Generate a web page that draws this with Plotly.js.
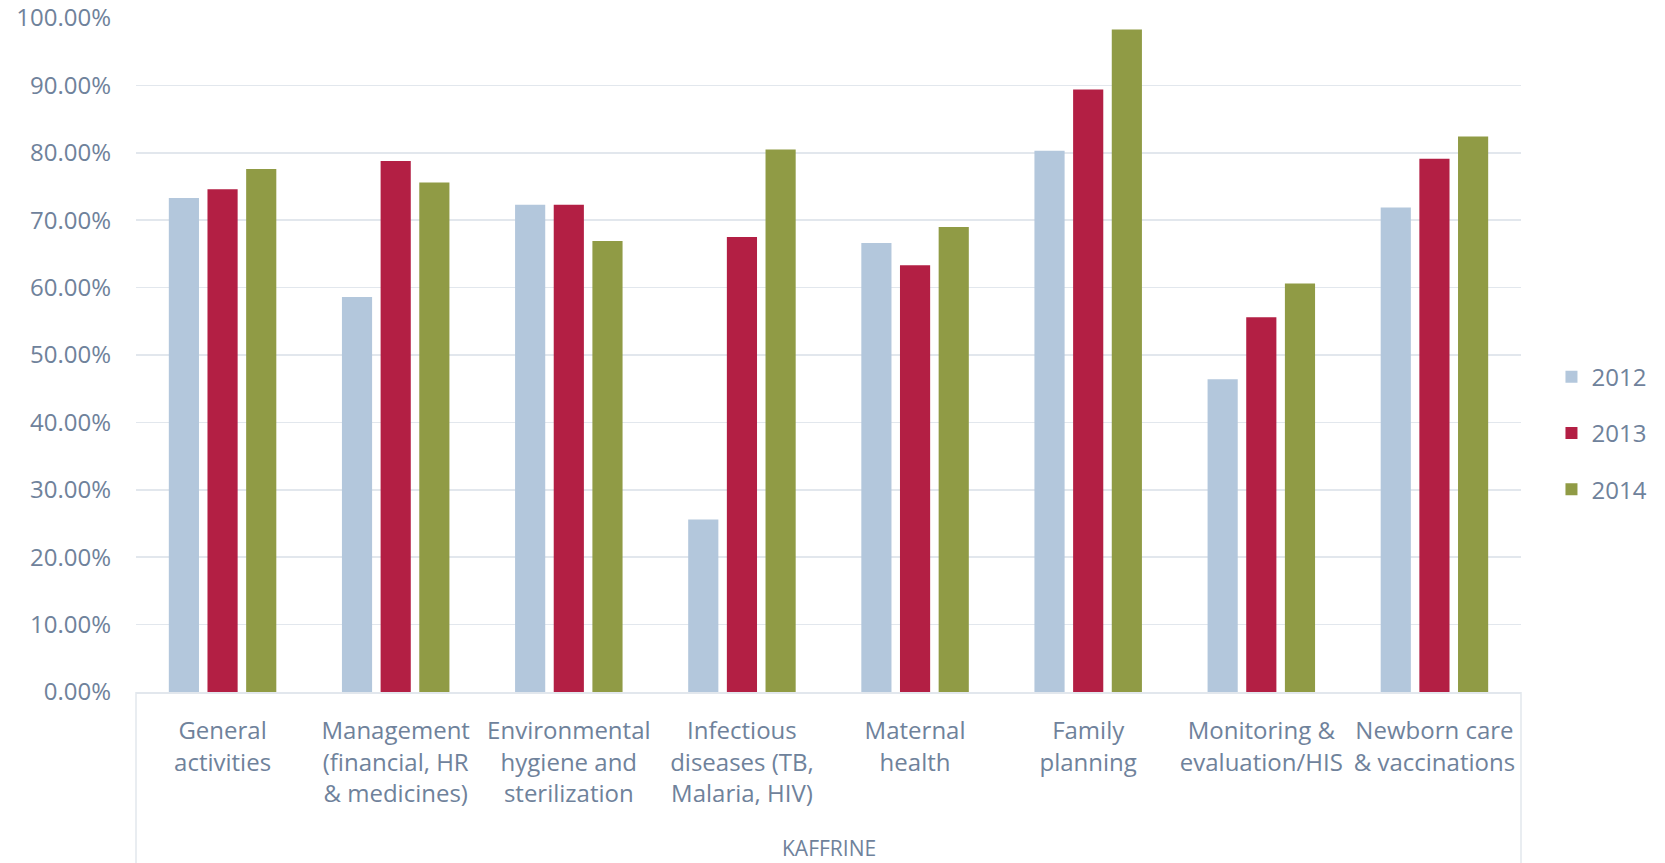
<!DOCTYPE html>
<html>
<head>
<meta charset="utf-8">
<script src="https://cdn.plot.ly/plotly-3.0.1.min.js"></script>
<style>
  html, body { margin: 0; padding: 0; background: #ffffff; }
  #chart { width: 1665px; height: 863px; }
</style>
</head>
<body>
<div id="chart"></div>
<script>
// Activity areas assessed in the KAFFRINE region
const categories = [
  "General<br>activities",
  "Management<br>(financial, HR<br>& medicines)",
  "Environmental<br>hygiene and<br>sterilization",
  "Infectious<br>diseases (TB,<br>Malaria, HIV)",
  "Maternal<br>health",
  "Family<br>planning",
  "Monitoring &<br>evaluation/HIS",
  "Newborn care<br>& vaccinations"
];

const years = ["2012", "2013", "2014"];

// Share of activities achieved per year
const values2012 = [0.733, 0.586, 0.723, 0.256, 0.666, 0.803, 0.464, 0.719];
const values2013 = [0.746, 0.788, 0.723, 0.675, 0.633, 0.894, 0.556, 0.791];
const values2014 = [0.776, 0.756, 0.669, 0.805, 0.690, 0.983, 0.606, 0.824];

const regionLabel = "KAFFRINE";
const yTicks = [0, 0.1, 0.2, 0.3, 0.4, 0.5, 0.6, 0.7, 0.8, 0.9, 1.0];

const colors = ["#b3c7dc", "#b31f44", "#909b45"];
const seriesValues = [values2012, values2013, values2014];

const textColor = "#6f829b";
const gridColor = "#e2e7ed";
const fontFamily = "'Open Sans', 'Noto Sans', sans-serif";

const traces = years.map((yr, i) => ({
  type: "bar",
  name: yr,
  x: categories,
  y: seriesValues[i],
  legendgroup: yr,
  marker: { color: colors[i], line: { width: 0 } },
  hoverinfo: "skip"
}));

const layout = {
  width: 1665,
  height: 863,
  paper_bgcolor: "#ffffff",
  plot_bgcolor: "#ffffff",
  font: { family: fontFamily, size: 24, color: textColor },
  margin: { l: 136, r: 144, t: 18, b: 171, pad: 0 },
  barmode: "group",
  bargap: 0.33,
  bargroupgap: 0.22,
  showlegend: true,
  legend: {
    x: 1.022, xanchor: "left",
    y: 0.384, yanchor: "middle",
    traceorder: "grouped",
    tracegroupgap: 22,
    font: { family: fontFamily, size: 24, color: textColor },
    bgcolor: "rgba(0,0,0,0)"
  },
  xaxis: {
    type: "category",
    tickmode: "array",
    tickvals: categories,
    ticktext: categories,
    ticks: "",
    ticklabelstandoff: 17,
    showgrid: false,
    showline: true,
    linecolor: gridColor,
    linewidth: 1.5,
    zeroline: false,
    tickfont: { family: fontFamily, size: 24, color: textColor },
    fixedrange: true
  },
  yaxis: {
    range: [0, 1],
    tickmode: "array",
    tickvals: yTicks,
    tickformat: ".2%",
    ticks: "",
    ticklabelstandoff: 24,
    showgrid: true,
    gridcolor: gridColor,
    gridwidth: 1.5,
    zeroline: false,
    showline: false,
    tickfont: { family: fontFamily, size: 24, color: textColor },
    fixedrange: true
  },
  shapes: [
    { type: "line", xref: "paper", yref: "paper", x0: 0, x1: 0, y0: 0, y1: -0.26,
      line: { color: gridColor, width: 1.5 } },
    { type: "line", xref: "paper", yref: "paper", x0: 1, x1: 1, y0: 0, y1: -0.26,
      line: { color: gridColor, width: 1.5 } }
  ],
  annotations: [
    { text: regionLabel, xref: "paper", yref: "paper", x: 0.5, y: -0.231,
      xanchor: "center", yanchor: "middle", showarrow: false,
      font: { family: fontFamily, size: 21, color: textColor } }
  ]
};

Plotly.newPlot("chart", traces, layout, { displayModeBar: false, staticPlot: true });
</script>
</body>
</html>
